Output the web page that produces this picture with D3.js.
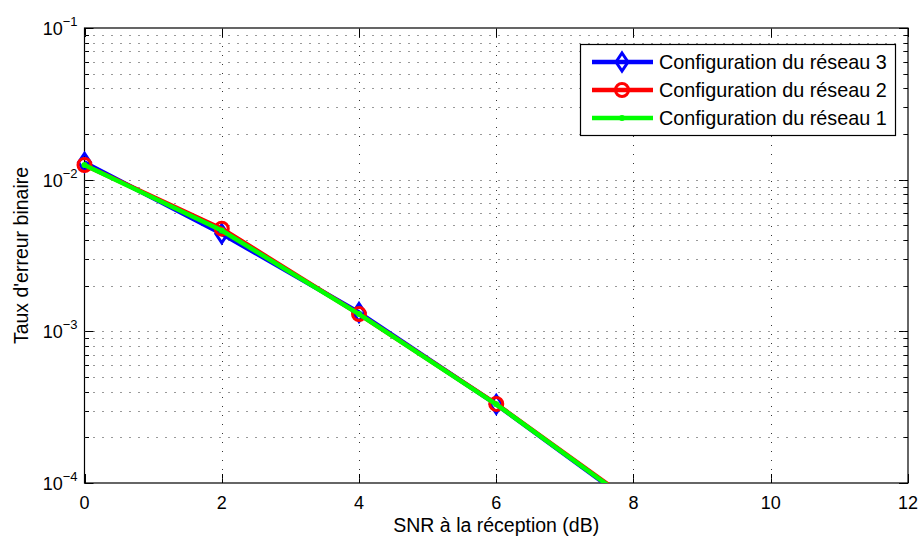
<!DOCTYPE html>
<html>
<head>
<meta charset="utf-8">
<script src="https://cdn.jsdelivr.net/npm/d3@7"></script>
<style>
  body { margin: 0; background: #fff; }
  text { font-family: "Liberation Sans", Arial, sans-serif; fill: #000; }
</style>
</head>
<body>
<div id="chart"></div>
<script>
// données
const snr = [0, 2, 4, 6, 8];
const ber3 = [0.0130, 0.00440, 0.00133, 0.000330, 0.0000720];
const ber2 = [0.0125, 0.00475, 0.00130, 0.000332, 0.0000740];
const ber1 = [0.0125, 0.00462, 0.00130, 0.000330, 0.0000730];
const xTicks = [0, 2, 4, 6, 8, 10, 12];
const yDecades = [1e-4, 1e-3, 1e-2, 1e-1];
const seriesNames = ["Configuration du réseau 3", "Configuration du réseau 2", "Configuration du réseau 1"];

const width = 921, height = 538;
const plotLeft = 84.5, plotRight = 908, plotTop = 28, plotBottom = 483;

const svg = d3.select("#chart").append("svg")
    .attr("width", width)
    .attr("height", height);

const x = d3.scaleLinear().domain([0, 12]).range([plotLeft, plotRight]);
const y = d3.scaleLog().domain([1e-4, 1e-1]).range([plotBottom, plotTop]);

// graduations mineures (2..9 par décade)
const yMinor = [];
yDecades.slice(0, -1).forEach(d => {
    for (let k = 2; k <= 9; k++) yMinor.push(d * k);
});

// grille pointillée
const grid = svg.append("g")
    .attr("stroke", "#333")
    .attr("stroke-width", 1)
    .attr("stroke-dasharray", "1,8");

grid.selectAll(".gx")
    .data(xTicks.slice(1, -1))
    .join("line")
    .attr("x1", d => Math.round(x(d)) + 0.5)
    .attr("x2", d => Math.round(x(d)) + 0.5)
    .attr("y1", plotTop)
    .attr("y2", plotBottom);

grid.selectAll(".gy")
    .data(yDecades.slice(1, -1).concat(yMinor))
    .join("line")
    .attr("x1", plotLeft)
    .attr("x2", plotRight)
    .attr("y1", d => Math.round(y(d)) + 0.5)
    .attr("y2", d => Math.round(y(d)) + 0.5);

// courbes (lignes coupées au cadre, marqueurs non coupés comme sous MATLAB)
svg.append("clipPath").attr("id", "clip")
    .append("rect")
    .attr("x", plotLeft).attr("y", plotTop)
    .attr("width", plotRight - plotLeft).attr("height", plotBottom - plotTop);

const line = d3.line().x((d, i) => x(snr[i])).y(d => y(d));

const series = [
    { name: seriesNames[0], values: ber3, color: "#0000ff", marker: "diamond" },
    { name: seriesNames[1], values: ber2, color: "#ff0000", marker: "circle" },
    { name: seriesNames[2], values: ber1, color: "#00ff00", marker: "point" }
];

const plot = svg.append("g");

function drawMarker(g, type, color) {
    if (type === "diamond") {
        g.append("path")
            .attr("d", "M0,-9L6,0L0,9L-6,0Z")
            .attr("fill", "none")
            .attr("stroke", color)
            .attr("stroke-width", 3);
    } else if (type === "circle") {
        g.append("circle")
            .attr("r", 6.5)
            .attr("fill", "none")
            .attr("stroke", color)
            .attr("stroke-width", 3);
    } else {
        g.append("circle")
            .attr("r", 3)
            .attr("fill", color);
    }
}

series.forEach(s => {
    plot.append("path")
        .datum(s.values)
        .attr("clip-path", "url(#clip)")
        .attr("d", line)
        .attr("fill", "none")
        .attr("stroke", s.color)
        .attr("stroke-width", 4.5)
        .attr("stroke-linejoin", "round");

    s.values.forEach((v, i) => {
        if (v < y.domain()[0] || v > y.domain()[1]) return;
        const g = plot.append("g")
            .attr("transform", `translate(${x(snr[i])},${y(v)})`);
        drawMarker(g, s.marker, s.color);
    });
});

// cadre
svg.insert("rect", "g")
    .attr("x", plotLeft).attr("y", plotTop)
    .attr("width", plotRight - plotLeft).attr("height", plotBottom - plotTop)
    .attr("fill", "none")
    .attr("stroke", "#000")
    .attr("stroke-width", 1.2);

// graduations
const ticks = svg.insert("g", "g").attr("stroke", "#000").attr("stroke-width", 1);
xTicks.forEach(t => {
    const px = Math.round(x(t)) + 0.5;
    ticks.append("line").attr("x1", px).attr("x2", px).attr("y1", plotBottom).attr("y2", plotBottom - 9);
    ticks.append("line").attr("x1", px).attr("x2", px).attr("y1", plotTop).attr("y2", plotTop + 9);
});
yDecades.forEach(t => {
    const py = Math.round(y(t)) + 0.5;
    ticks.append("line").attr("x1", plotLeft).attr("x2", plotLeft + 9).attr("y1", py).attr("y2", py);
    ticks.append("line").attr("x1", plotRight).attr("x2", plotRight - 9).attr("y1", py).attr("y2", py);
});
yMinor.forEach(t => {
    const py = Math.round(y(t)) + 0.5;
    ticks.append("line").attr("x1", plotLeft).attr("x2", plotLeft + 4.5).attr("y1", py).attr("y2", py);
    ticks.append("line").attr("x1", plotRight).attr("x2", plotRight - 4.5).attr("y1", py).attr("y2", py);
});

// étiquettes de l'axe x
svg.append("g").selectAll("text")
    .data(xTicks)
    .join("text")
    .attr("x", d => x(d))
    .attr("y", plotBottom + 26)
    .attr("text-anchor", "middle")
    .attr("font-size", 18)
    .text(d => d);

// étiquettes de l'axe y (10^k)
yDecades.forEach(d => {
    const k = Math.round(Math.log10(d));
    const t = svg.append("text")
        .attr("x", plotLeft - 7)
        .attr("y", y(d) + 7)
        .attr("text-anchor", "end")
        .attr("font-size", 18);
    t.append("tspan").text("10");
    t.append("tspan")
        .attr("font-size", 13)
        .attr("dy", -9)
        .text("\u2212" + Math.abs(k));
});

// titres des axes
svg.append("text")
    .attr("x", (plotLeft + plotRight) / 2)
    .attr("y", 532)
    .attr("text-anchor", "middle")
    .attr("font-size", 19.5)
    .text("SNR à la réception (dB)");

svg.append("text")
    .attr("transform", `translate(28,${(plotTop + plotBottom) / 2}) rotate(-90)`)
    .attr("text-anchor", "middle")
    .attr("font-size", 19.5)
    .text("Taux d'erreur binaire");

// légende
const legend = svg.append("g");
legend.append("rect")
    .attr("x", 580.5).attr("y", 44.5)
    .attr("width", 315).attr("height", 91)
    .attr("fill", "#fff")
    .attr("stroke", "#000")
    .attr("stroke-width", 1.2);

const rowY = [62, 90, 118];
series.forEach((s, i) => {
    legend.append("line")
        .attr("x1", 592).attr("x2", 653)
        .attr("y1", rowY[i]).attr("y2", rowY[i])
        .attr("stroke", s.color)
        .attr("stroke-width", 4.5);
    const g = legend.append("g").attr("transform", `translate(622,${rowY[i]})`);
    drawMarker(g, s.marker, s.color);
    legend.append("text")
        .attr("x", 659)
        .attr("y", rowY[i] + 7)
        .attr("font-size", 19.8)
        .text(s.name);
});
</script>
</body>
</html>
